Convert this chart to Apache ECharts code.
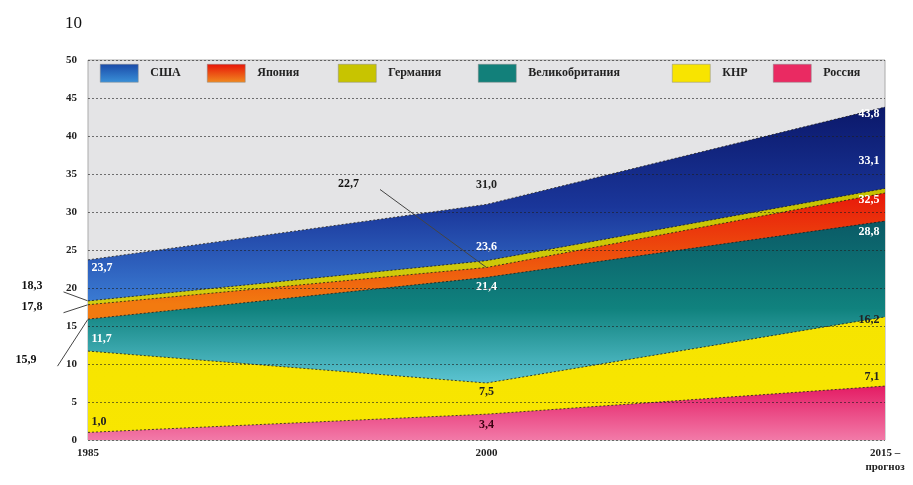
<!DOCTYPE html>
<html>
<head>
<meta charset="utf-8">
<script src="https://cdn.jsdelivr.net/npm/echarts@6/dist/echarts.min.js"></script>
<style>
  html, body { margin: 0; padding: 0; background: #fff; }
  #chart { width: 913px; height: 485px; }
</style>
</head>
<body>
<div id="chart"></div>
<script>
// годы (ось X)
const years = ['1985', '2000', '2015 –\nпрогноз'];
// накопленные значения, как подписаны на графике
const usa = [23.7, 31.0, 43.8];
const germany = [18.3, 23.6, 33.1];
const japan = [17.8, 22.7, 32.5];
const uk = [15.9, 21.4, 28.8];
const china = [11.7, 7.5, 16.2];
const russia = [1.0, 3.4, 7.1];
const legendNames = ['США', 'Япония', 'Германия', 'Великобритания', 'КНР', 'Россия'];
const yTicks = [0, 5, 10, 15, 20, 25, 30, 35, 40, 45, 50];

const FONT = '"Liberation Serif", "DejaVu Serif", serif';
const grad = (stops) => new echarts.graphic.LinearGradient(0, 0, 0, 1,
  stops.map(([o, c]) => ({ offset: o, color: c })));

const colors = {
  'США': grad([[0, '#0b186a'], [0.3, '#1a369a'], [0.58, '#3a7ad2'], [1, '#3a7ad2']]),
  'Япония': grad([[0, '#e8180a'], [0.45, '#f27a10'], [1, '#f27a10']]),
  'Германия': grad([[0, '#c6c200'], [1, '#e0d820']]),
  'Великобритания': grad([[0, '#0a5a66'], [0.4, '#10827e'], [0.74, '#5cc4d2'], [1, '#5cc4d2']]),
  'КНР': grad([[0, '#f6e400'], [1, '#f8e600']]),
  'Россия': grad([[0, '#e41c64'], [1, '#f27aa8']])
};
const legendColors = {
  'США': grad([[0, '#1a4aa8'], [1, '#3a90d8']]),
  'Япония': grad([[0, '#e81408'], [1, '#f08a20']]),
  'Германия': '#c8c400',
  'Великобритания': '#12807a',
  'КНР': '#f8e400',
  'Россия': '#ea2a62'
};
// отступы слева для каждого элемента легенды (в оригинале шрифт растянут)
const legendLeft = [95, 202, 333, 473, 667, 768];

const fmt = (v) => v.toFixed(1).replace('.', ',');
const lbl = (pos, offset, color) => ({
  show: true, position: pos, offset: offset, color: color,
  fontFamily: FONT, fontWeight: 'bold', fontSize: 12,
  formatter: (p) => fmt(p.value)
});

// подписи: положение для каждой точки
const labelCfg = {
  'США': [lbl('right', [-2, 8], '#fff'), lbl('top', [0, -8], '#222'), lbl('left', [0, 7], '#fff')],
  'Германия': [lbl('left', [-40, -15], '#111'), lbl('top', [0, -2], '#fff'), lbl('left', [0, -28], '#fff')],
  'Япония': [lbl('left', [-40, 2], '#111'), lbl('left', [-122, -84], '#111'), lbl('left', [0, 7], '#fff')],
  'Великобритания': [lbl('left', [-46, 41], '#111'), lbl('bottom', [0, -2], '#fff'), lbl('left', [0, 11], '#fff')],
  'КНР': [lbl('right', [-2, -12], '#fff'), lbl('bottom', [0, -3], '#222'), lbl('left', [0, 3], '#222')],
  'Россия': [lbl('right', [-2, -10], '#222'), lbl('bottom', [0, -1], '#3a0010'), lbl('left', [0, -9], '#222')]
};
const guide = {
  'Германия': [true, false, false],
  'Япония': [true, true, false],
  'Великобритания': [true, false, false]
};

// рисуем от большего к меньшему, чтобы нижние слои перекрывали верхние
const order = [['США', usa], ['Германия', germany], ['Япония', japan],
  ['Великобритания', uk], ['КНР', china], ['Россия', russia]];

const series = order.map(([name, vals]) => ({
  name: name,
  type: 'line',
  symbol: 'circle',
  symbolSize: 1,
  showSymbol: true,
  itemStyle: { color: 'rgba(0,0,0,0)' },
  lineStyle: { color: '#1a1a1a', width: 1, type: [2, 2], opacity: 0.8 },
  areaStyle: { color: colors[name], opacity: 1, origin: 'start' },
  data: vals.map((v, i) => ({
    value: v,
    label: labelCfg[name][i],
    labelLine: guide[name] && guide[name][i]
      ? { show: true, lineStyle: { color: '#444', width: 1 } }
      : { show: false }
  })),
  silent: true
}));

const legends = legendNames.map((n, i) => ({
  top: 59, left: legendLeft[i],
  itemWidth: 38, itemHeight: 18,
  icon: 'rect',
  textStyle: { fontFamily: FONT, fontWeight: 'bold', fontSize: 12, color: '#222', padding: [0, 0, 0, 7] },
  data: [{ name: n, itemStyle: { color: legendColors[n], borderColor: '#888', borderWidth: 0.5 } }]
}));

const chart = echarts.init(document.getElementById('chart'));
chart.setOption({
  animation: false,
  backgroundColor: '#fff',
  title: {
    text: '10', left: 60, top: 10,
    textStyle: { fontFamily: FONT, fontWeight: 'normal', fontSize: 17, color: '#111' }
  },
  legend: legends,
  grid: {
    left: 88, right: 28, top: 60, bottom: 45,
    show: true, backgroundColor: '#e4e4e6', borderColor: '#aaa', borderWidth: 1
  },
  xAxis: {
    type: 'category', data: years, boundaryGap: false,
    axisLine: { show: false }, axisTick: { show: false },
    axisLabel: {
      fontFamily: FONT, fontWeight: 'bold', fontSize: 11, color: '#222', margin: 6,
      lineHeight: 14
    }
  },
  yAxis: {
    type: 'value', min: yTicks[0], max: yTicks[yTicks.length - 1], interval: 5, z: 5,
    axisLine: { show: false }, axisTick: { show: false },
    axisLabel: { fontFamily: FONT, fontWeight: 'bold', fontSize: 11, color: '#222', margin: 11, padding: [5, 0, 0, 0] },
    splitLine: { lineStyle: { color: 'rgba(30,30,30,0.6)', width: 1, type: [2, 2] } }
  },
  series: series
});
</script>
</body>
</html>
